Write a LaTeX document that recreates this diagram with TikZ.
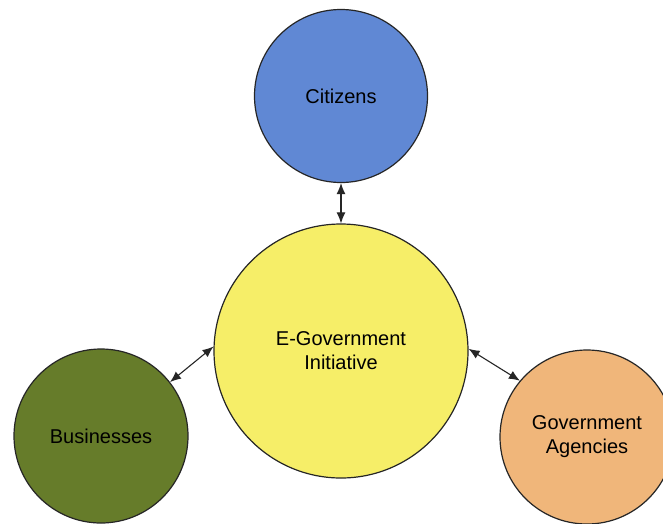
\documentclass[tikz,border=0pt]{standalone}
\usepackage{fontspec}
\setmainfont{Liberation Sans}
\usetikzlibrary{calc}
\usetikzlibrary{arrows.meta}

\definecolor{citblue}{RGB}{96,136,212}
\definecolor{egovyellow}{RGB}{246,238,104}
\definecolor{busgreen}{RGB}{102,124,42}
\definecolor{agenorange}{RGB}{240,182,122}

\begin{document}
\begin{tikzpicture} [x=1pt, y=-1pt, font=\fontsize{20}{24}\selectfont]
\tikzset{bubble/.style={circle, draw=black!85, line width=1.2pt, align=center, text=black, inner sep=0},
  link/.style={black!85, line width=1.1pt, {Latex[length=11pt,width=9pt]}-{Latex[length=11pt,width=9pt]}}}
\useasboundingbox (0,0) rectangle (663,523);
\clip (0,0) rectangle (663,523);
\fill[white] (0,0) rectangle (663,523);
\node[bubble, fill=citblue, minimum size=173] (cit) at (341,96) {Citizens};
\node[bubble, fill=egovyellow, minimum size=254] (egov) at (341,351) {E-Government\\Initiative};
\node[bubble, fill=busgreen, minimum size=174] (bus) at (101,436) {Businesses};
\node[bubble, fill=agenorange, minimum size=174] (agen) at (587,437) {Government\\Agencies};
\draw[link] (cit.south)--(egov.north);
\draw[link] (bus.38)--(egov.178);
\draw[link] (egov.1)--(agen.140);
\end{tikzpicture}
\end{document}
